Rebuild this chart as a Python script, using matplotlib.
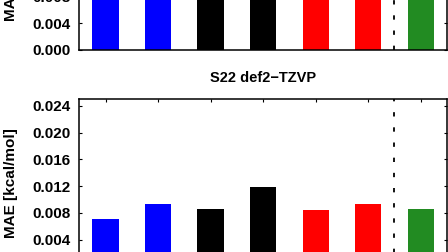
import numpy as np
import matplotlib
matplotlib.use('Agg')
import matplotlib.pyplot as plt

plt.rcParams['font.family'] = ['Liberation Sans', 'DejaVu Sans']
plt.rcParams['font.weight'] = 'bold'

# data (MAE in kcal/mol)
methods = ['m1', 'm2', 'm3', 'm4', 'm5', 'm6', 'ref']
colors = ['blue', 'blue', 'black', 'black', 'red', 'red', 'forestgreen']
mae_top = [0.0115, 0.0125, 0.0110, 0.0150, 0.0120, 0.0130, 0.0112]   # upper panel, mostly out of view
mae_s22_tzvp = [0.0071, 0.0093, 0.0086, 0.0119, 0.0085, 0.0093, 0.0086]
yticks = [0.000, 0.004, 0.008, 0.012, 0.016, 0.020, 0.024]

fig = plt.figure(figsize=(4.48, 2.52), dpi=100)
ax1 = fig.add_axes([0.177, 0.8016, 0.8208, 0.6646])
ax2 = fig.add_axes([0.177, -0.0575, 0.8208, 0.6646])

x = np.arange(1, len(methods) + 1)
x[-1] = 7

def draw(ax, vals, title=None):
    ax.bar(x, vals, width=0.5, color=colors, edgecolor='none', zorder=2)
    ax.axvline(6.5, color='black', lw=1.3, linestyle=(0, (2.4, 6.0)), zorder=3)
    ax.set_xlim(0.5, 7.5)
    ax.set_ylim(0, 0.025)
    ax.set_yticks(yticks)
    ax.set_yticklabels(['%.3f' % t for t in yticks], fontsize=11, fontweight='bold')
    ax.set_xticks(x)
    ax.set_xticklabels([])
    ax.tick_params(axis='x', bottom=False, top=True, direction='in', length=2, width=0.8)
    ax.tick_params(axis='y', left=True, right=True, direction='in', length=2, width=0.8, pad=6.5)
    for s in ax.spines.values():
        s.set_linewidth(1.1)
    ax.set_ylabel('MAE [kcal/mol]', fontsize=11, fontweight='bold', labelpad=10)
    if title:
        ax.set_title(title, fontsize=10.5, fontweight='bold', pad=12)

draw(ax1, mae_top)
draw(ax2, mae_s22_tzvp, 'S22 def2\u2212TZVP')

fig.savefig('out.png', dpi=100)
